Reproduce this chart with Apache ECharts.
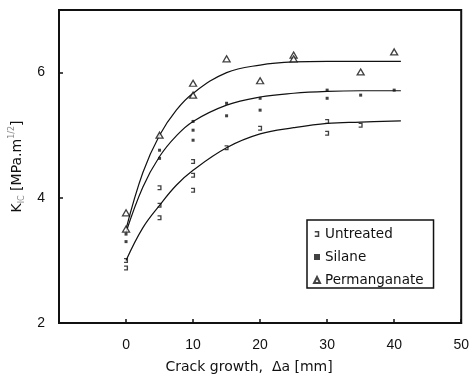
<!DOCTYPE html>
<html>
<head>
<meta charset="utf-8">
<script src="https://cdn.jsdelivr.net/npm/echarts@6/dist/echarts.min.js"></script>
<style>
  html, body { margin: 0; padding: 0; background: #fff; }
  #chart { width: 472px; height: 385px; }
</style>
</head>
<body>
<div id="chart"></div>
<script>
// Measured fracture toughness K_IC versus crack growth for three fibre treatments
const xTicks = [-10, 0, 10, 20, 30, 40, 50];
const yTicks = [2, 4, 6];

// Measured points [crack growth mm, K_IC MPa.m^1/2]
const untreatedPts = [[0, 2.88], [0, 3.0], [5, 4.16], [5, 3.88], [5, 3.68], [10, 4.58], [10, 4.36], [10, 4.12],
  [15, 4.8], [20, 5.11], [30, 5.22], [30, 5.03], [35, 5.16]];
const silanePts = [[0, 3.42], [0, 3.3], [5, 4.76], [5, 4.63], [10, 5.22], [10, 5.08], [10, 4.92], [15, 5.51], [15, 5.31],
  [20, 5.59], [20, 5.4], [30, 5.72], [30, 5.59], [35, 5.64], [40, 5.72]];
const permanganatePts = [[0, 3.76], [0, 3.5], [5, 5.0], [10, 5.83], [10, 5.64], [15, 6.22], [20, 5.87],
  [25, 6.28], [25, 6.22], [35, 6.01], [40, 6.33]];

// Fitted R-curves, sampled along crack growth
const curveX = [0, 2.5, 5, 7.5, 10, 15, 20, 25, 30, 35, 41];
const untreatedFit = [3.0, 3.52, 3.88, 4.2, 4.44, 4.8, 5.02, 5.12, 5.19, 5.21, 5.23];
const silaneFit = [3.45, 4.17, 4.66, 4.99, 5.22, 5.48, 5.61, 5.67, 5.70, 5.71, 5.71];
const permanganateFit = [3.5, 4.4, 5.0, 5.4, 5.67, 6.0, 6.12, 6.17, 6.18, 6.18, 6.18];

const names = ['Untreated', 'Silane', 'Permanganate'];
const FONT = 'Liberation Sans, Arial, sans-serif';
const WIDE = 'DejaVu Sans, sans-serif';

const pair = (xs, ys) => xs.map((x, i) => [x, ys[i]]);

const untreatedIcon = 'path://M0,0 L3,0 L3,4 L0,4 L0,3 L2,3 L2,1 L0,1 Z';
const silaneIcon = 'path://M0,0 L3,0 L3,3 L0,3 Z';

function fitLine(data) {
  return {
    type: 'line', data, smooth: 0.4, symbol: 'none', silent: true,
    lineStyle: { color: '#111', width: 1.2 }, z: 2
  };
}

const chart = echarts.init(document.getElementById('chart'), null, { renderer: 'canvas' });
chart.setOption({
  animation: false,
  backgroundColor: '#fff',
  grid: { left: 59, right: 7, top: 10, bottom: 62, show: true, borderColor: '#111', borderWidth: 2 },
  xAxis: {
    type: 'value', min: xTicks[0], max: xTicks[xTicks.length - 1], interval: 10,
    axisLine: { show: true, onZero: false, lineStyle: { color: '#111', width: 2 } },
    axisTick: { show: true, inside: true, length: 4, lineStyle: { color: '#111', width: 1.5 } },
    axisLabel: {
      color: '#111', fontFamily: FONT, fontSize: 14, margin: 15,
      formatter: v => (xTicks.indexOf(v) > 0 ? String(v) : '')
    },
    splitLine: { show: false },
    name: 'Crack growth,  \u0394a [mm]', nameLocation: 'middle', nameGap: 37,
    nameTextStyle: { color: '#111', fontFamily: WIDE, fontSize: 14, padding: [0, 22, 0, 0] }
  },
  yAxis: {
    type: 'value', min: 2, max: 7, interval: 2,
    axisLine: { show: true, onZero: false, lineStyle: { color: '#111', width: 2 } },
    axisTick: { show: true, inside: true, length: 4, lineStyle: { color: '#111', width: 1.5 } },
    axisLabel: {
      color: '#111', fontFamily: FONT, fontSize: 14, margin: 14,
      formatter: v => (yTicks.indexOf(v) >= 0 ? String(v) : '')
    },
    splitLine: { show: false },
    name: '{k|K}{s|IC} {k|[MPa.m}{p|1/2}{k|]}', nameLocation: 'middle', nameGap: 25,
    nameTextStyle: {
      color: '#111', fontFamily: WIDE, fontSize: 14,
      rich: {
        k: { fontFamily: WIDE, fontSize: 14, color: '#111', lineHeight: 18 },
        s: { fontFamily: WIDE, fontSize: 8, color: '#888', verticalAlign: 'bottom', lineHeight: 18 },
        p: { fontFamily: WIDE, fontSize: 8, color: '#888', verticalAlign: 'top', lineHeight: 18 }
      }
    }
  },
  legend: {
    orient: 'vertical', left: 307, top: 220,
    padding: [7, 10, 1, 6], itemGap: 9, itemWidth: 6, itemHeight: 6,
    borderColor: '#111', borderWidth: 1.5, backgroundColor: '#fff',
    textStyle: { color: '#111', fontFamily: WIDE, fontSize: 13.5, lineHeight: 14 },
    data: [
      { name: names[0], icon: untreatedIcon },
      { name: names[1], icon: silaneIcon },
      { name: names[2], icon: 'triangle' }
    ]
  },
  series: [
    fitLine(pair(curveX, untreatedFit)),
    fitLine(pair(curveX, silaneFit)),
    fitLine(pair(curveX, permanganateFit)),
    {
      name: names[0], type: 'scatter', data: untreatedPts, symbol: untreatedIcon, symbolSize: [4, 5],
      itemStyle: { color: '#111' }, z: 3
    },
    {
      name: names[1], type: 'scatter', data: silanePts, symbol: silaneIcon, symbolSize: [3, 3],
      itemStyle: { color: '#111' }, z: 3
    },
    {
      name: names[2], type: 'scatter', data: permanganatePts, symbol: 'triangle', symbolSize: [7, 6],
      itemStyle: { color: '#fff', borderColor: '#111', borderWidth: 1.3 }, z: 3
    }
  ]
});
</script>
</body>
</html>
